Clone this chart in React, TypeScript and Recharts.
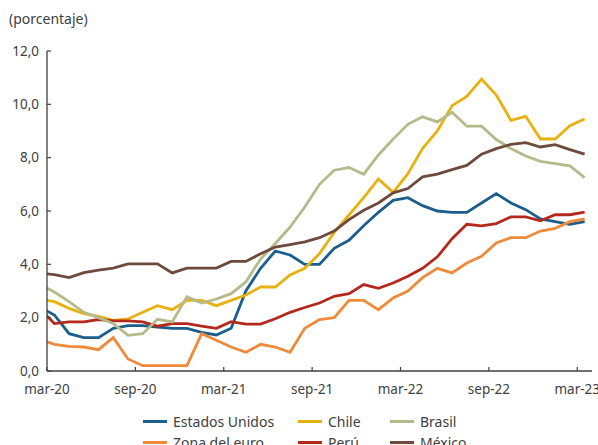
import { Line, LineChart, XAxis, YAxis } from "recharts";

const MESES = ["ene", "feb", "mar", "abr", "may", "jun", "jul", "ago", "sep", "oct", "nov", "dic"];

// feb-20 ... mar-23 (feb-20 queda recortado por el eje)
const categorias = Array.from({ length: 38 }, (_, i) => {
  const m = i + 1;
  return `${MESES[m % 12]}-${20 + Math.floor(m / 12)}`;
});

const TICKS_X = [0, 6, 12, 18, 24, 30, 36];
const ETIQUETAS_X = ["mar-20", "sep-20", "mar-21", "sep-21", "mar-22", "sep-22", "mar-23"];
const TICKS_Y = [0, 2, 4, 6, 8, 10, 12];

const estadosUnidos = [2.4, 2.1, 1.4, 1.25, 1.25, 1.6, 1.7, 1.7, 1.65, 1.6, 1.6, 1.45, 1.35, 1.6, 3.0, 3.85, 4.5, 4.35, 4.0, 4.0, 4.6, 4.9, 5.45, 5.95, 6.4, 6.5, 6.2, 6.0, 5.95, 5.95, 6.3, 6.65, 6.3, 6.05, 5.7, 5.6, 5.5, 5.6];
const zonaEuro = [1.2, 1.0, 0.92, 0.9, 0.8, 1.25, 0.45, 0.2, 0.2, 0.2, 0.2, 1.4, 1.15, 0.9, 0.7, 1.0, 0.9, 0.7, 1.6, 1.93, 2.0, 2.65, 2.65, 2.3, 2.74, 3.0, 3.5, 3.85, 3.68, 4.05, 4.3, 4.8, 5.0, 5.0, 5.25, 5.35, 5.6, 5.7];
const chile = [2.7, 2.6, 2.35, 2.15, 2.05, 1.9, 1.95, 2.2, 2.45, 2.3, 2.65, 2.65, 2.45, 2.65, 2.85, 3.15, 3.15, 3.6, 3.85, 4.4, 5.2, 5.85, 6.5, 7.2, 6.7, 7.4, 8.35, 9.0, 9.95, 10.3, 10.95, 10.35, 9.4, 9.55, 8.7, 8.7, 9.2, 9.45];
const peru = [2.34, 1.78, 1.84, 1.84, 1.93, 1.88, 1.88, 1.84, 1.68, 1.78, 1.78, 1.68, 1.6, 1.85, 1.76, 1.76, 1.96, 2.2, 2.38, 2.55, 2.8, 2.9, 3.24, 3.1, 3.3, 3.55, 3.85, 4.28, 4.96, 5.5, 5.44, 5.53, 5.78, 5.78, 5.63, 5.86, 5.86, 5.96];
const brasil = [3.26, 2.96, 2.6, 2.2, 2.0, 1.78, 1.34, 1.4, 1.94, 1.84, 2.78, 2.55, 2.7, 2.9, 3.34, 4.2, 4.78, 5.4, 6.15, 7.0, 7.53, 7.63, 7.38, 8.1, 8.7, 9.25, 9.53, 9.34, 9.7, 9.18, 9.18, 8.68, 8.34, 8.06, 7.86, 7.78, 7.69, 7.25];
const mexico = [3.68, 3.61, 3.5, 3.69, 3.78, 3.86, 4.02, 4.02, 4.02, 3.68, 3.86, 3.86, 3.86, 4.11, 4.11, 4.4, 4.65, 4.74, 4.84, 5.0, 5.25, 5.68, 6.03, 6.3, 6.68, 6.84, 7.28, 7.38, 7.55, 7.71, 8.13, 8.34, 8.5, 8.56, 8.4, 8.49, 8.3, 8.13];

const SERIES = [
  { key: "eeuu", nombre: "Estados Unidos", color: "#1B5E8C", col: 0, fila: 0 },
  { key: "euro", nombre: "Zona del euro", color: "#EE8A3A", col: 0, fila: 1 },
  { key: "chile", nombre: "Chile", color: "#E9B10F", col: 1, fila: 0 },
  { key: "peru", nombre: "Perú", color: "#B5281C", col: 1, fila: 1 },
  { key: "brasil", nombre: "Brasil", color: "#B4BA8A", col: 2, fila: 0 },
  { key: "mexico", nombre: "México", color: "#6E4A3C", col: 2, fila: 1 },
];

const datos = categorias.map((mes, i) => ({
  mes,
  x: i - 0.5,
  eeuu: estadosUnidos[i],
  euro: zonaEuro[i],
  chile: chile[i],
  peru: peru[i],
  brasil: brasil[i],
  mexico: mexico[i],
}));

const FUENTE = "'Noto Sans', sans-serif";
const GRIS = "#404040";

const TickY = ({ x, y, payload }: any) => (
  <g>
    <line x1={x + 8} x2={x + 12} y1={y} y2={y} stroke={GRIS} strokeWidth={1.2} />
    <text x={x} y={y} dy={4.6} textAnchor="end" fontSize={13.5} fontFamily={FUENTE} fill={GRIS}>
      {Number(payload.value).toFixed(1).replace(".", ",")}
    </text>
  </g>
);

const TickX = ({ x, y, payload }: any) => (
  <g>
    <line x1={x} x2={x} y1={y - 23} y2={y - 27} stroke={GRIS} strokeWidth={1.2} />
    <text x={x} y={y} textAnchor="middle" fontSize={13.5} fontFamily={FUENTE} fill={GRIS}>
      {ETIQUETAS_X[TICKS_X.indexOf(payload.value)]}
    </text>
  </g>
);

const LEYENDA_X = [143, 298, 390];
const LEYENDA_Y = [421, 442];

export default function App() {
  return (
    <div style={{ position: "absolute", left: 0, top: 0, width: 598, height: 445, background: "#fff", overflow: "hidden" }}>
      <div style={{ position: "absolute", left: 9, top: 9, fontFamily: FUENTE, fontSize: 14, color: GRIS }}>
        (porcentaje)
      </div>
      <LineChart width={598} height={445} data={datos} margin={{ top: 51, right: 6, bottom: 44, left: 7 }}>
        <XAxis
          dataKey="x"
          type="number"
          domain={[0, 37]}
          ticks={TICKS_X}
          allowDataOverflow
          height={30}
          tickSize={0}
          tickMargin={23}
          tick={<TickX />}
          axisLine={{ stroke: GRIS, strokeWidth: 1.3 }}
          tickLine={false}
        />
        <YAxis
          type="number"
          domain={[0, 12]}
          ticks={TICKS_Y}
          width={40}
          tickSize={0}
          tickMargin={8}
          tick={<TickY />}
          axisLine={{ stroke: GRIS, strokeWidth: 1.3 }}
          tickLine={false}
        />
        {SERIES.map((s) => (
          <Line
            key={s.key}
            dataKey={s.key}
            name={s.nombre}
            type="linear"
            stroke={s.color}
            strokeWidth={2.8}
            dot={false}
            activeDot={false}
            isAnimationActive={false}
          />
        ))}
      </LineChart>
      {SERIES.map((s) => (
        <div
          key={s.key}
          style={{
            position: "absolute",
            left: LEYENDA_X[s.col],
            top: LEYENDA_Y[s.fila] - 10,
            height: 20,
            display: "flex",
            alignItems: "center",
            fontFamily: FUENTE,
            fontSize: 14,
            color: GRIS,
            whiteSpace: "nowrap",
          }}
        >
          <span style={{ display: "inline-block", width: 24, height: 3, background: s.color, marginRight: 6 }} />
          {s.nombre}
        </div>
      ))}
    </div>
  );
}
